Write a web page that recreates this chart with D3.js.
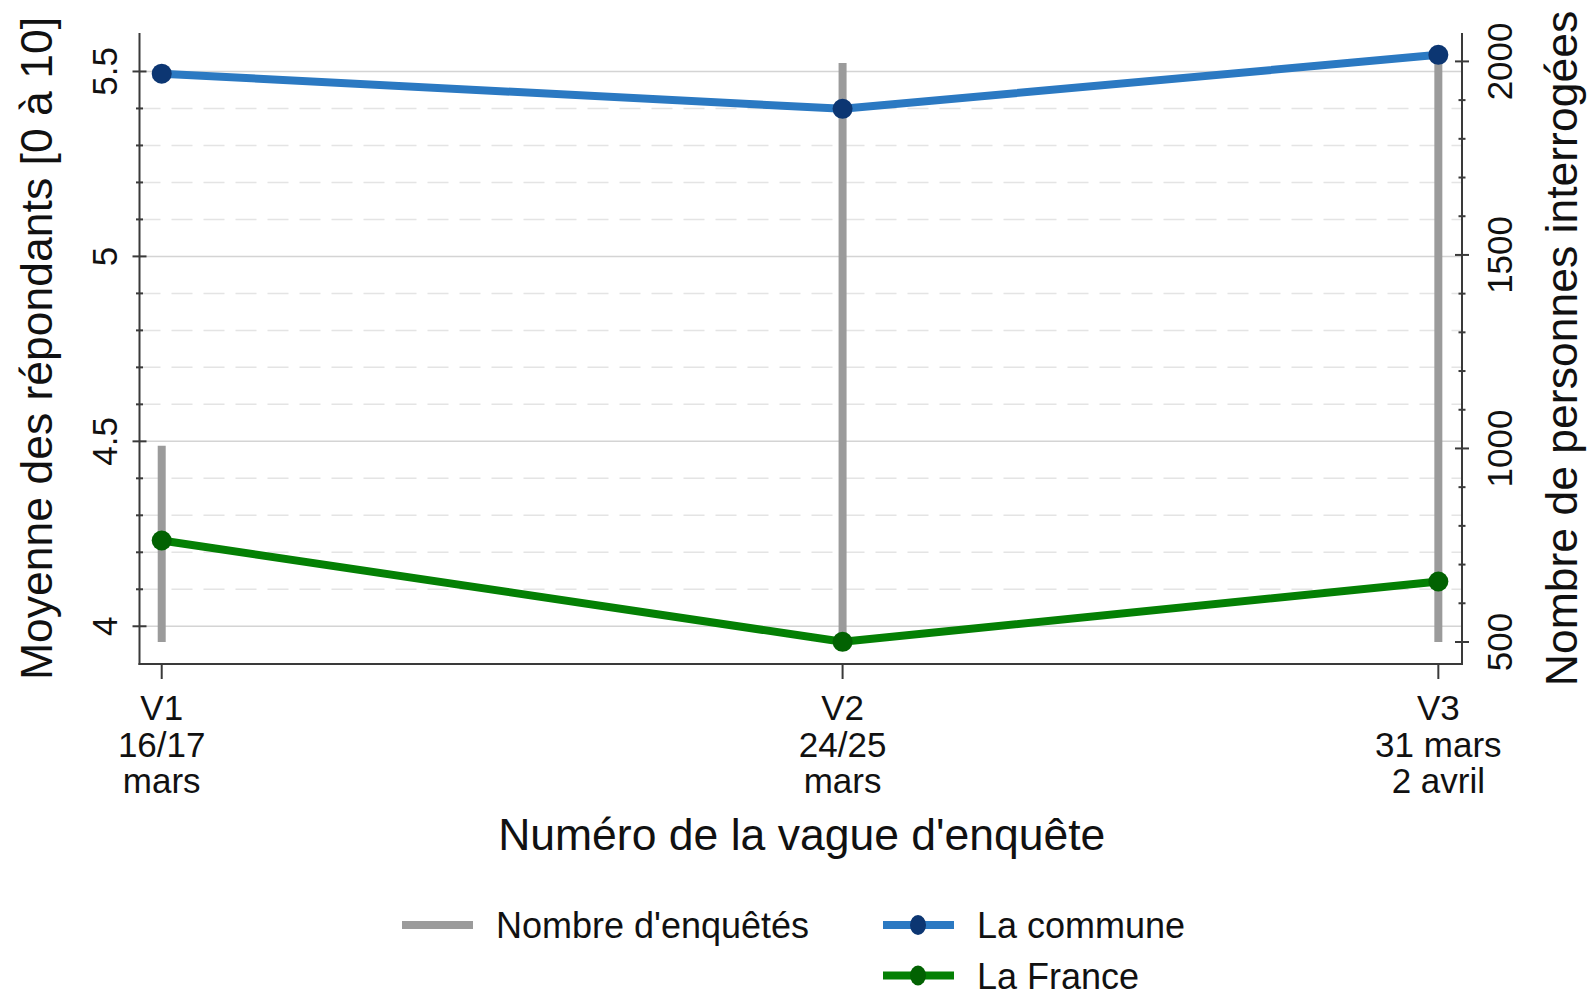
<!DOCTYPE html>
<html>
<head>
<meta charset="utf-8">
<script src="https://cdn.jsdelivr.net/npm/d3@7"></script>
<style>
  html, body { margin: 0; padding: 0; background: #fff; }
  svg { display: block; font-family: "Liberation Sans", Arial, sans-serif; }
</style>
</head>
<body>
<div id="chart"></div>
<script>
// survey waves (x axis)
const waveLabels = [['V1', '16/17', 'mars'], ['V2', '24/25', 'mars'], ['V3', '31 mars', '2 avril']];
const waveDay = [16.5, 24.5, 31.5];

// mean score of respondents [0-10]
const communeMean = [5.494, 5.399, 5.545];
const franceMean = [4.232, 3.958, 4.121];

// number of respondents (right axis), spikes from the base
const respondents = [1007, 1996, 1996];
const respondentsBase = 500;

const leftMajor = [4, 4.5, 5, 5.5];
const leftMinor = [4.1, 4.2, 4.3, 4.4, 4.6, 4.7, 4.8, 4.9, 5.1, 5.2, 5.3, 5.4];
const rightMajor = [500, 1000, 1500, 2000];
const rightMinor = [600, 700, 800, 900, 1100, 1200, 1300, 1400, 1600, 1700, 1800, 1900];

const legendItems = [
  { label: "Nombre d'enquêtés", type: 'spike' },
  { label: 'La commune', type: 'commune' },
  { label: 'La France', type: 'france' }
];

const width = 1588;
const height = 993;
const plot = { left: 139.5, right: 1462, top: 33, bottom: 664 };

const colors = {
  spike: '#9b9b9b',
  communeLine: '#2b79c2',
  communeDot: '#0c3672',
  franceLine: '#048004',
  franceDot: '#026202',
  axis: '#3a3a3a',
  gridMajor: '#d4d4d4',
  gridMinor: '#e4e4e4'
};

const svg = d3.select('#chart')
  .append('svg')
  .attr('width', width)
  .attr('height', height);

// Scales
const x = d3.scaleLinear().domain([16.239, 31.778]).range([plot.left, plot.right]);
const y = d3.scaleLinear().domain([3.898, 5.604]).range([plot.bottom, plot.top]);
const y2 = d3.scaleLinear().domain([443.1, 2073.4]).range([plot.bottom, plot.top]);

// Gridlines
const grid = svg.append('g');
grid.selectAll('.minor-grid')
  .data(leftMinor)
  .enter()
  .append('line')
  .attr('x1', plot.left)
  .attr('x2', plot.right)
  .attr('y1', d => y(d))
  .attr('y2', d => y(d))
  .attr('stroke', colors.gridMinor)
  .attr('stroke-width', 1.5)
  .attr('stroke-dasharray', '21,11');

grid.selectAll('.major-grid')
  .data(leftMajor)
  .enter()
  .append('line')
  .attr('x1', plot.left)
  .attr('x2', plot.right)
  .attr('y1', d => y(d))
  .attr('y2', d => y(d))
  .attr('stroke', colors.gridMajor)
  .attr('stroke-width', 1.5);

// Spikes (respondents)
svg.append('g')
  .selectAll('line')
  .data(respondents)
  .enter()
  .append('line')
  .attr('x1', (d, i) => x(waveDay[i]))
  .attr('x2', (d, i) => x(waveDay[i]))
  .attr('y1', y2(respondentsBase))
  .attr('y2', d => y2(d))
  .attr('stroke', colors.spike)
  .attr('stroke-width', 8);

// Lines with markers
const line = d3.line()
  .x((d, i) => x(waveDay[i]))
  .y(d => y(d));

function drawSeries(values, lineColor, dotColor) {
  svg.append('path')
    .datum(values)
    .attr('d', line)
    .attr('fill', 'none')
    .attr('stroke', lineColor)
    .attr('stroke-width', 8)
    .attr('stroke-linejoin', 'round');

  svg.append('g')
    .selectAll('circle')
    .data(values)
    .enter()
    .append('circle')
    .attr('cx', (d, i) => x(waveDay[i]))
    .attr('cy', d => y(d))
    .attr('r', 10)
    .attr('fill', dotColor);
}

drawSeries(communeMean, colors.communeLine, colors.communeDot);
drawSeries(franceMean, colors.franceLine, colors.franceDot);

// Axes
const axisG = svg.append('g')
  .attr('stroke', colors.axis)
  .attr('stroke-width', 2);

axisG.append('line')
  .attr('x1', plot.left).attr('x2', plot.left)
  .attr('y1', plot.top).attr('y2', plot.bottom + 1);
axisG.append('line')
  .attr('x1', plot.right).attr('x2', plot.right)
  .attr('y1', plot.top).attr('y2', plot.bottom + 1);
axisG.append('line')
  .attr('x1', plot.left - 1).attr('x2', plot.right + 1)
  .attr('y1', plot.bottom).attr('y2', plot.bottom);

// ticks crossing the axis line
function ticks(values, scale, xPos, half) {
  axisG.selectAll(null)
    .data(values)
    .enter()
    .append('line')
    .attr('x1', xPos - half)
    .attr('x2', xPos + half)
    .attr('y1', d => scale(d))
    .attr('y2', d => scale(d));
}
ticks(leftMajor, y, plot.left, 7);
ticks(leftMinor, y, plot.left, 3.5);
ticks(rightMajor, y2, plot.right, 7);
ticks(rightMinor, y2, plot.right, 3.5);

axisG.selectAll(null)
  .data(waveDay)
  .enter()
  .append('line')
  .attr('x1', d => x(d))
  .attr('x2', d => x(d))
  .attr('y1', plot.bottom)
  .attr('y2', plot.bottom + 15);

// Tick labels
const tickFont = 35;
svg.append('g')
  .selectAll('text')
  .data(leftMajor)
  .enter()
  .append('text')
  .attr('transform', d => `translate(116.5,${y(d)}) rotate(-90)`)
  .attr('text-anchor', 'middle')
  .style('font-size', tickFont + 'px')
  .style('fill', '#111')
  .text(d => d3.format('')(d));

svg.append('g')
  .selectAll('text')
  .data(rightMajor)
  .enter()
  .append('text')
  .attr('transform', d => `translate(1511.5,${y2(d)}) rotate(-90)`)
  .attr('text-anchor', 'middle')
  .style('font-size', tickFont + 'px')
  .style('fill', '#111')
  .text(d => d);

const xLabels = svg.append('g')
  .selectAll('text')
  .data(waveLabels)
  .enter()
  .append('text')
  .attr('text-anchor', 'middle')
  .style('font-size', tickFont + 'px')
  .style('fill', '#111');

xLabels.selectAll('tspan')
  .data((d, i) => d.map(s => ({ s, xv: waveDay[i] })))
  .enter()
  .append('tspan')
  .attr('x', d => x(d.xv))
  .attr('y', (d, j) => 720 + j * 36.5)
  .text(d => d.s);

// Axis titles
const titleFont = 44.5;
svg.append('text')
  .attr('x', (plot.left + plot.right) / 2 + 1)
  .attr('y', 850)
  .attr('text-anchor', 'middle')
  .style('font-size', titleFont + 'px')
  .style('fill', '#111')
  .text("Numéro de la vague d'enquête");

svg.append('text')
  .attr('transform', `translate(52,${(plot.top + plot.bottom) / 2}) rotate(-90)`)
  .attr('text-anchor', 'middle')
  .style('font-size', titleFont + 'px')
  .style('fill', '#111')
  .text('Moyenne des répondants [0 à 10]');

svg.append('text')
  .attr('transform', `translate(1577,${(plot.top + plot.bottom) / 2}) rotate(-90)`)
  .attr('text-anchor', 'middle')
  .style('font-size', titleFont + 'px')
  .style('fill', '#111')
  .text('Nombre de personnes interrogées');

// Legend
const legendPos = [
  { x: 402, y: 925 },
  { x: 883, y: 925 },
  { x: 883, y: 975.5 }
];
const legend = svg.append('g');
legendItems.forEach((item, i) => {
  const p = legendPos[i];
  const g = legend.append('g').attr('transform', `translate(${p.x},${p.y})`);
  const c = item.type === 'spike' ? colors.spike
    : item.type === 'commune' ? colors.communeLine : colors.franceLine;
  g.append('line')
    .attr('x1', 0).attr('x2', 71)
    .attr('y1', 0).attr('y2', 0)
    .attr('stroke', c)
    .attr('stroke-width', 8);
  if (item.type !== 'spike') {
    g.append('ellipse')
      .attr('cx', 35).attr('cy', 0)
      .attr('rx', 8).attr('ry', 10)
      .attr('fill', item.type === 'commune' ? colors.communeDot : colors.franceDot);
  }
  g.append('text')
    .attr('x', 94)
    .attr('y', 13)
    .style('font-size', '36px')
    .style('fill', '#111')
    .text(item.label);
});
</script>
</body>
</html>
